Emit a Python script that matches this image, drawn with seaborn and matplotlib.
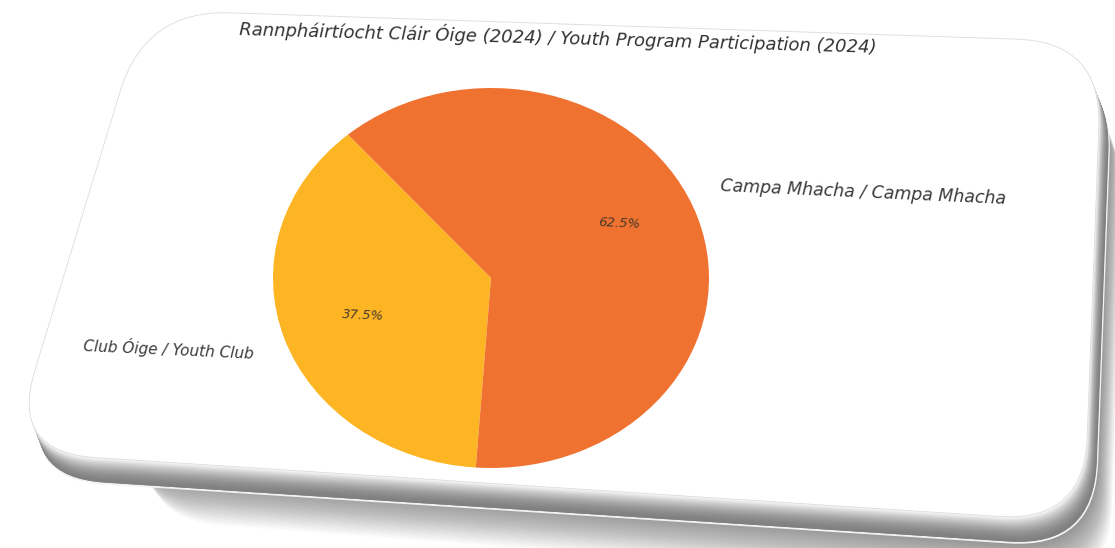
import numpy as np
import matplotlib
matplotlib.use("Agg")
import matplotlib.pyplot as plt
from matplotlib.path import Path
from matplotlib.patches import PathPatch
import seaborn as sns

# ---- data ----
title = "Rannpháirtíocht Cláir Óige (2024) / Youth Program Participation (2024)"
categories = ["Club Óige / Youth Club", "Campa Mhacha / Campa Mhacha"]
shares = [37.5, 62.5]
colors = ["#FDB524", "#F07230"]

sns.set_theme(style="white")
plt.rcParams["font.family"] = ["DejaVu Sans"]

W, H = 1115, 548
fig = plt.figure(figsize=(W / 100, H / 100), dpi=100)
fig.patch.set_facecolor("white")


def card_path(pts, r):
    """Rounded quadrilateral path in figure-fraction coords from pixel points."""
    pts = [np.array(p, float) for p in pts]
    n = len(pts)
    verts, codes = [], []
    for i in range(n):
        P = pts[i]
        Pp = pts[i - 1]
        Pn = pts[(i + 1) % n]
        A = P + r * (Pp - P) / np.linalg.norm(Pp - P)
        B = P + r * (Pn - P) / np.linalg.norm(Pn - P)
        verts.append(A); codes.append(Path.MOVETO if i == 0 else Path.LINETO)
        verts.append(P); codes.append(Path.CURVE3)
        verts.append(B); codes.append(Path.CURVE3)
    verts.append(verts[0]); codes.append(Path.CLOSEPOLY)
    v = np.array(verts)
    v[:, 0] = v[:, 0] / W
    v[:, 1] = 1 - v[:, 1] / H
    return Path(v, codes)


base = [(145, 10), (1102, 42), (1084, 522), (10, 452)]
radius = 85
rim_dx, rim_dy = 10, 26

# soft outer shadow below / right of the card (stronger towards the right)
nsh = 30
for k in range(nsh, 0, -1):
    pts = [(145 + 60 + k * 0.8, 10 + 40 + k * 1.5),
           (1102 + rim_dx + k * 0.5, 42 + 30 + k * 1.5),
           (1084 + rim_dx + k * 0.5, 522 + rim_dy + k * 1.5),
           (10 + 90 + k * 1.2, 452 + rim_dy - 4 + k * 1.5)]
    fig.patches.append(PathPatch(card_path(pts, radius), transform=fig.transFigure,
                                 facecolor="#000000", edgecolor="none", alpha=0.016, zorder=0))

# outer edge highlight line + dark edge
pts = [(x + rim_dx, y + rim_dy) for x, y in base]
fig.patches.append(PathPatch(card_path(pts, radius), transform=fig.transFigure,
                             facecolor="#7c7c7c", edgecolor="#f2f2f2", lw=1.4, zorder=1))

# rim gradient (dark at bottom/right edge, fading to white top face)
nrim = 26
for i in range(1, nrim + 1):
    t = i / nrim
    sx = rim_dx * (1 - t)
    sy = rim_dy * (1 - t)
    g = 0.50 + 0.50 * (t ** 1.8)
    pts = [(x + sx, y + sy) for x, y in base]
    ec = "#dcdcdc" if i == nrim else "none"
    fig.patches.append(PathPatch(card_path(pts, radius), transform=fig.transFigure,
                                 facecolor=(g, g, g), edgecolor=ec, lw=0.6, zorder=1))

# ---- pie ----
cx, cy, rx, ry = 491, 278, 218, 190
ax = fig.add_axes([(cx - rx) / W, 1 - (cy + ry) / H, 2 * rx / W, 2 * ry / H])
ax.set_zorder(5)
wedges, texts, autotexts = ax.pie(
    shares, labels=categories, colors=colors, startangle=131,
    autopct="%1.1f%%", pctdistance=0.62, labeldistance=1.15,
    wedgeprops=dict(linewidth=0),
    textprops=dict(color="#3a3a3a"),
)
ax.set_aspect("auto")
ax.set_xlim(-1, 1)
ax.set_ylim(-1, 1)
ax.axis("off")

# perspective tilt of the card: nudge texts like the reference
lx, ly = texts[1].get_position()
texts[1].set_position((lx - 0.04, ly + 0.12))
lx, ly = texts[0].get_position()
texts[0].set_position((lx, ly - 0.03))
px, py = autotexts[1].get_position()
autotexts[1].set_position((px, py + 0.09))

for t in texts:
    t.set_fontstyle("oblique")
    t.set_rotation(-2.6)
    t.set_rotation_mode("anchor")
texts[0].set_fontsize(11)
texts[1].set_fontsize(12.5)
for t in autotexts:
    t.set_fontstyle("oblique")
    t.set_fontsize(9.5)
    t.set_rotation(-2.5)
    t.set_color("#4a3a2a")

fig.text(558 / W, 1 - 37 / H, title, ha="center", va="center", fontsize=13,
         fontstyle="oblique", color="#333333", rotation=-1.6, zorder=6)

fig.savefig("out.png", dpi=100, facecolor="white")
